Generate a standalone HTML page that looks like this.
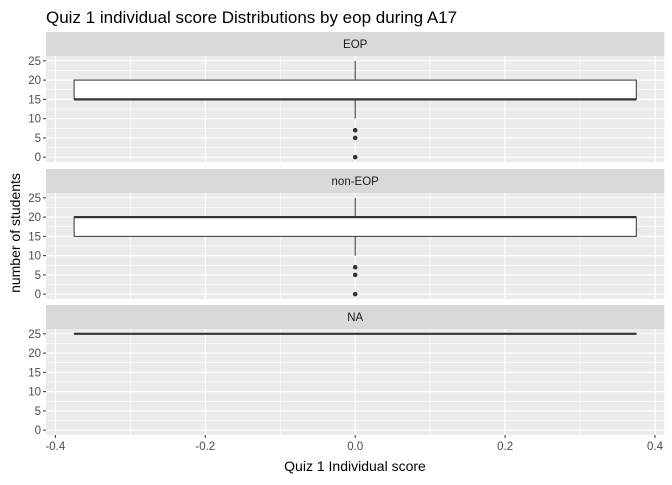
<!DOCTYPE html>
<html><head><meta charset="utf-8">
<style>
html,body{margin:0;padding:0;background:#fff;}
svg text{font-family:"Liberation Sans",Arial,sans-serif;}
</style></head>
<body>
<svg id="chart" width="672" height="480" xmlns="http://www.w3.org/2000/svg">
<rect width="672" height="480" fill="#fff"/>
<text x="46" y="23" font-size="17" fill="#000">Quiz 1 individual score Distributions by eop during A17</text>
<text x="355" y="471" font-size="14" text-anchor="middle" fill="#000">Quiz 1 Individual score</text>
<text transform="translate(20,233) rotate(-90)" font-size="14" text-anchor="middle" fill="#000">number of students</text>
</svg>
<script>
const facets = ["EOP", "non-EOP", "NA"];
const lowerWhisker = [10, 10, 25];
const q1 = [15, 15, 25];
const median = [15, 20, 25];
const q3 = [20, 20, 25];
const upperWhisker = [25, 25, 25];
const outliers = [[7, 5, 0], [7, 5, 0], []];
const xTicks = [-0.4, -0.2, 0, 0.2, 0.4];
const xMinor = [-0.3, -0.1, 0.1, 0.3];
const yTicks = [0, 5, 10, 15, 20, 25];
const yMinor = [2.5, 7.5, 12.5, 17.5, 22.5];

const NS = "http://www.w3.org/2000/svg";
const svg = document.getElementById("chart");
const left = 46, right = 664.4;
const xMin = -0.4125, xMax = 0.4125;
const x = v => left + (v - xMin) / (xMax - xMin) * (right - left);
const panelTops = [56, 193, 329];
const panelH = 106, stripH = 24;
function mk(tag, attrs, parent) {
  const e = document.createElementNS(NS, tag);
  for (const k in attrs) e.setAttribute(k, attrs[k]);
  (parent || svg).appendChild(e);
  return e;
}
facets.forEach((f, i) => {
  const top = panelTops[i];
  const y = v => top + panelH - (v + 1.25) / 27.5 * panelH;
  const g = mk("g", {});
  
  
  const strip = mk("rect", {x: left, y: top - stripH, width: right - left, height: stripH, fill: "#d9d9d9"}, g);
  
  
  const st = mk("text", {x: (left + right) / 2, y: top - stripH / 2 + 4, "font-size": 11.5, "text-anchor": "middle", fill: "#1a1a1a"}, g);
  st.textContent = f;
  
  
  const bg = mk("rect", {x: left, y: top, width: right - left, height: panelH, fill: "#ebebeb"}, g);
  
  
  yMinor.forEach(v => mk("line", {x1: left, x2: right, y1: y(v), y2: y(v), stroke: "#fff", "stroke-width": 0.6}, g));
  xMinor.forEach(v => mk("line", {x1: x(v), x2: x(v), y1: top, y2: top + panelH, stroke: "#fff", "stroke-width": 0.6}, g));
  yTicks.forEach(v => {
    mk("line", {x1: left, x2: right, y1: y(v), y2: y(v), stroke: "#fff", "stroke-width": 1.2}, g);
    mk("line", {x1: left - 3, x2: left, y1: y(v), y2: y(v), stroke: "#333", "stroke-width": 1}, g);
    const t = mk("text", {x: left - 5, y: y(v) + 4, "font-size": 11.5, "text-anchor": "end", fill: "#4d4d4d"}, g);
    t.textContent = v;
    
    
  });
  xTicks.forEach(v => mk("line", {x1: x(v), x2: x(v), y1: top, y2: top + panelH, stroke: "#fff", "stroke-width": 1.2}, g));
  // whiskers
  const wl = mk("line", {x1: x(0), x2: x(0), y1: y(upperWhisker[i]), y2: y(q3[i]), stroke: "#333", "stroke-width": 1}, g);
  
  
  const wl2 = mk("line", {x1: x(0), x2: x(0), y1: y(q1[i]), y2: y(lowerWhisker[i]), stroke: "#333", "stroke-width": 1}, g);
  
  
  const box = mk("rect", {x: x(-0.375), y: y(q3[i]), width: x(0.375) - x(-0.375), height: Math.max(0.01, y(q1[i]) - y(q3[i])), fill: "#fff", stroke: "#333", "stroke-width": 1}, g);
  
  
  const med = mk("line", {x1: x(-0.375), x2: x(0.375), y1: y(median[i]), y2: y(median[i]), stroke: "#333", "stroke-width": 2.2}, g);
  
  
  outliers[i].forEach(v => {
    const c = mk("circle", {cx: x(0), cy: y(v), r: 2.3, fill: "#333"}, g);
    
    
  });
  if (i === facets.length - 1) {
    xTicks.forEach(v => {
      mk("line", {x1: x(v), x2: x(v), y1: top + panelH, y2: top + panelH + 3, stroke: "#333", "stroke-width": 1}, g);
      const t = mk("text", {x: x(v), y: top + panelH + 15, "font-size": 11.5, "text-anchor": "middle", fill: "#4d4d4d"}, g);
      t.textContent = v.toFixed(1);
      
      
    });
  }
});
</script>
</body></html>
